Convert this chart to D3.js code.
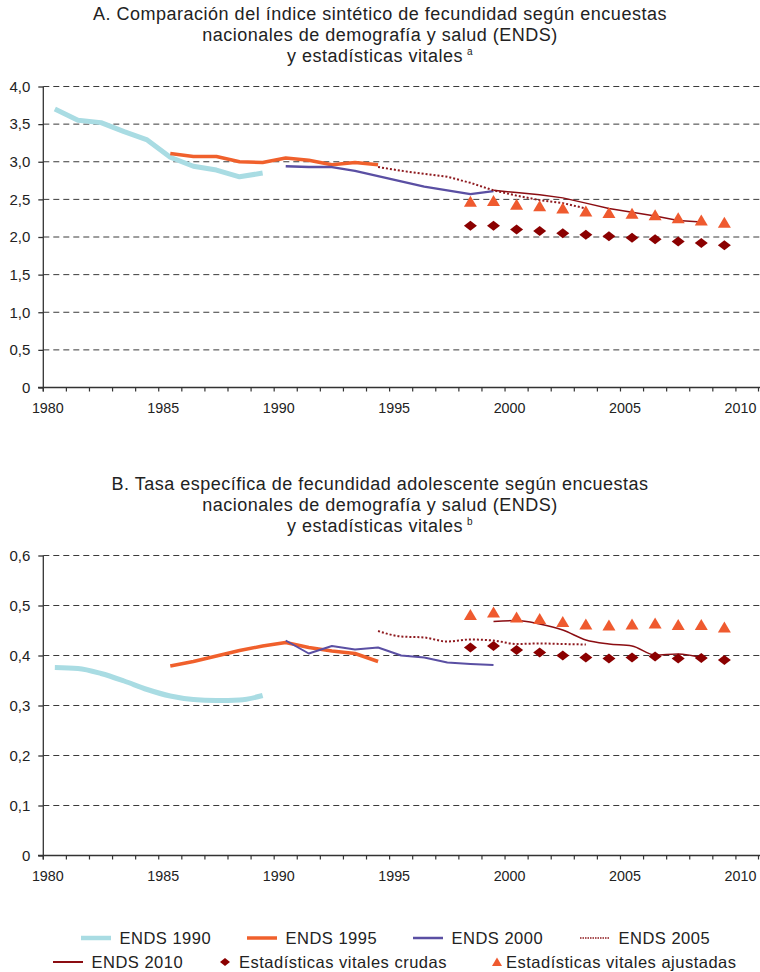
<!DOCTYPE html>
<html>
<head>
<meta charset="utf-8">
<script src="https://cdn.jsdelivr.net/npm/d3@7"></script>
<style>
  body { margin: 0; background: #fff; }
  text { font-family: "Liberation Sans", Arial, sans-serif; fill: #222; }
</style>
</head>
<body>
<div id="chart-area"></div>
<script>
// categories
var years = d3.range(1980, 2011);
var tickYears = [1980, 1985, 1990, 1995, 2000, 2005, 2010];

// Panel A - indice sintetico de fecundidad
var aTicks = [0, 0.5, 1, 1.5, 2, 2.5, 3, 3.5, 4];
var aEnds1990 = [3.70, 3.55, 3.52, 3.40, 3.29, 3.06, 2.94, 2.89, 2.80, 2.85];              // 1980-1989
var aEnds1995 = [3.11, 3.07, 3.07, 3.00, 2.99, 3.05, 3.02, 2.96, 2.99, 2.96];              // 1985-1994
var aEnds2000 = [2.94, 2.93, 2.93, 2.88, 2.81, 2.74, 2.67, 2.62, 2.57, 2.61];              // 1990-1999
var aEnds2005 = [2.93, 2.88, 2.84, 2.80, 2.72, 2.62, 2.55, 2.49, 2.45, 2.38];              // 1994-2003
var aEnds2010 = [2.62, 2.59, 2.56, 2.52, 2.45, 2.38, 2.33, 2.28, 2.22, 2.20];              // 1999-2008
var aCrudas   = [2.15, 2.15, 2.10, 2.08, 2.05, 2.03, 2.01, 1.99, 1.97, 1.94, 1.92, 1.89];  // 1998-2009
var aAjustadas = [2.47, 2.48, 2.43, 2.41, 2.38, 2.34, 2.32, 2.31, 2.29, 2.25, 2.22, 2.19]; // 1998-2009

// Panel B - tasa especifica de fecundidad adolescente
var bTicks = [0, 0.1, 0.2, 0.3, 0.4, 0.5, 0.6];
var bEnds1990 = [0.376, 0.374, 0.364, 0.349, 0.332, 0.319, 0.312, 0.310, 0.311, 0.320];
var bEnds1995 = [0.379, 0.388, 0.399, 0.410, 0.419, 0.426, 0.416, 0.409, 0.404, 0.388];
var bEnds2000 = [0.430, 0.404, 0.419, 0.412, 0.416, 0.400, 0.396, 0.386, 0.383, 0.381];
var bEnds2005 = [0.449, 0.438, 0.436, 0.428, 0.432, 0.430, 0.423, 0.424, 0.423, 0.422];
var bEnds2010 = [0.468, 0.470, 0.463, 0.451, 0.431, 0.423, 0.419, 0.401, 0.403, 0.396];
var bCrudas   = [0.416, 0.419, 0.411, 0.406, 0.400, 0.396, 0.394, 0.396, 0.398, 0.394, 0.395, 0.391];
var bAjustadas = [0.481, 0.486, 0.476, 0.473, 0.467, 0.462, 0.460, 0.462, 0.464, 0.461, 0.461, 0.456];

var colors = {
    e1990: "#a9dce3", e1995: "#f0602c", e2000: "#5a4fa3",
    e2005: "#8e1a1f", e2010: "#8b0d12", crudas: "#8b0000", ajustadas: "#ef5a2f"
};

var svg = d3.select("#chart-area").append("svg")
    .attr("width", 760)
    .attr("height", 972);

var x = d3.scaleBand()
    .domain(years)
    .range([43.3, 759]);

function cx(yr) { return x(yr) + x.bandwidth() / 2; }

function drawPanel(p) {
    var y = d3.scaleLinear()
        .domain([0, p.max])
        .range([p.bottom, p.top]);

    // title
    var t = svg.append("text")
        .attr("text-anchor", "middle")
        .attr("font-size", "18px")
        .attr("letter-spacing", "0.5px");
    p.title.forEach(function(line, i) {
        t.append("tspan")
            .attr("x", 380)
            .attr("y", p.titleY + i * 21)
            .text(line);
    });
    t.append("tspan")
        .attr("font-size", "10px")
        .attr("dx", 4)
        .attr("dy", -7)
        .text(p.note);

    // gridlines
    svg.append("g").selectAll("line")
        .data(p.ticks.filter(function(d) { return d > 0; }))
        .enter().append("line")
        .attr("x1", 43.3).attr("x2", 760)
        .attr("y1", function(d) { return y(d); })
        .attr("y2", function(d) { return y(d); })
        .attr("stroke", "#3a3a3a")
        .attr("stroke-width", 1)
        .attr("stroke-dasharray", "6,4");

    // y axis
    var yAxisCall = d3.axisLeft(y)
        .tickValues(p.ticks)
        .tickSize(5)
        .tickPadding(8)
        .tickFormat(function(d) { return d === 0 ? "0" : d3.format(".1f")(d).replace(".", ","); });
    var ya = svg.append("g")
        .attr("transform", "translate(43.3,0)")
        .call(yAxisCall);
    ya.select(".domain").attr("d", "M0," + p.top + "V" + (p.bottom + 4));
    ya.selectAll("line, path").attr("stroke", "#333").attr("stroke-width", 1.3);
    ya.selectAll("text").attr("font-size", "15px").attr("fill", "#222")
        .attr("font-family", "Liberation Sans, Arial, sans-serif");

    // x axis
    var xa = svg.append("g");
    xa.append("line")
        .attr("x1", 38).attr("x2", 760)
        .attr("y1", p.bottom).attr("y2", p.bottom)
        .attr("stroke", "#333").attr("stroke-width", 1.5);
    xa.selectAll(".tk")
        .data(years.concat([2011]))
        .enter().append("line")
        .attr("x1", function(d) { return d === 2011 ? x(2010) + x.bandwidth() - 0.5 : x(d); })
        .attr("x2", function(d) { return d === 2011 ? x(2010) + x.bandwidth() - 0.5 : x(d); })
        .attr("y1", p.bottom).attr("y2", p.bottom + 4)
        .attr("stroke", "#333").attr("stroke-width", 1.2);
    xa.selectAll(".lb")
        .data(tickYears)
        .enter().append("text")
        .attr("x", function(d) { return cx(d) - 7; })
        .attr("y", p.bottom + 25)
        .attr("text-anchor", "middle")
        .attr("font-size", "14.3px")
        .text(function(d) { return d; });

    // lines
    p.series.forEach(function(s) {
        var pts = s.values.map(function(v, i) { return [cx(s.start + i), y(v)]; });
        var line = d3.line().curve(s.smooth ? d3.curveMonotoneX : d3.curveLinear);
        svg.append("path")
            .attr("d", line(pts))
            .attr("fill", "none")
            .attr("stroke", s.color)
            .attr("stroke-width", s.width)
            .attr("stroke-linejoin", "round")
            .attr("stroke-dasharray", s.dash || null);
    });

    // markers
    svg.append("g").selectAll("path")
        .data(p.crudas)
        .enter().append("path")
        .attr("transform", function(d, i) { return "translate(" + cx(1998 + i) + "," + y(d) + ")"; })
        .attr("d", "M-6.5,0L0,-5L6.5,0L0,5Z")
        .attr("fill", colors.crudas);
    svg.append("g").selectAll("path")
        .data(p.ajustadas)
        .enter().append("path")
        .attr("transform", function(d, i) { return "translate(" + cx(1998 + i) + "," + y(d) + ")"; })
        .attr("d", "M-6.5,5L0,-6L6.5,5Z")
        .attr("fill", colors.ajustadas);
}

drawPanel({
    max: 4, top: 86.5, bottom: 387.5, ticks: aTicks, titleY: 20, note: "a",
    title: ["A. Comparación del índice sintético de fecundidad según encuestas",
            "nacionales de demografía y salud (ENDS)",
            "y estadísticas vitales"],
    series: [
        { values: aEnds1990, start: 1980, color: colors.e1990, width: 5 },
        { values: aEnds1995, start: 1985, color: colors.e1995, width: 3.5 },
        { values: aEnds2000, start: 1990, color: colors.e2000, width: 2.3 },
        { values: aEnds2005, start: 1994, color: colors.e2005, width: 2, dash: "2,2" },
        { values: aEnds2010, start: 1999, color: colors.e2010, width: 1.5 }
    ],
    crudas: aCrudas, ajustadas: aAjustadas
});

drawPanel({
    max: 0.6, top: 555.5, bottom: 855.5, ticks: bTicks, titleY: 490, note: "b",
    title: ["B. Tasa específica de fecundidad adolescente según encuestas",
            "nacionales de demografía y salud (ENDS)",
            "y estadísticas vitales"],
    series: [
        { values: bEnds1990, start: 1980, color: colors.e1990, width: 5, smooth: true },
        { values: bEnds1995, start: 1985, color: colors.e1995, width: 3.5 },
        { values: bEnds2000, start: 1990, color: colors.e2000, width: 2 },
        { values: bEnds2005, start: 1994, color: colors.e2005, width: 2, dash: "2,2", smooth: true },
        { values: bEnds2010, start: 1999, color: colors.e2010, width: 1.5, smooth: true }
    ],
    crudas: bCrudas, ajustadas: bAjustadas
});

// legend
var legendItems = [
    { label: "ENDS 1990", type: "line", color: colors.e1990, width: 4.5, x: 81, y: 944 },
    { label: "ENDS 1995", type: "line", color: colors.e1995, width: 3.5, x: 247, y: 944 },
    { label: "ENDS 2000", type: "line", color: colors.e2000, width: 2.5, x: 413, y: 944 },
    { label: "ENDS 2005", type: "line", color: colors.e2005, width: 1.5, dash: "1.5,1", x: 580, y: 944 },
    { label: "ENDS 2010", type: "line", color: colors.e2010, width: 2, x: 53, y: 968 },
    { label: "Estadísticas vitales crudas", type: "diamond", color: colors.crudas, x: 225, y: 968 },
    { label: "Estadísticas vitales ajustadas", type: "triangle", color: colors.ajustadas, x: 497, y: 968 }
];

var lg = svg.append("g").selectAll("g")
    .data(legendItems)
    .enter().append("g")
    .attr("transform", function(d) { return "translate(" + d.x + "," + d.y + ")"; });

lg.filter(function(d) { return d.type === "line"; })
    .append("line")
    .attr("x1", 0).attr("x2", 30)
    .attr("y1", -6).attr("y2", -6)
    .attr("stroke", function(d) { return d.color; })
    .attr("stroke-width", function(d) { return d.width; })
    .attr("stroke-dasharray", function(d) { return d.dash || null; });
lg.filter(function(d) { return d.type === "diamond"; })
    .append("path")
    .attr("transform", "translate(0,-6)")
    .attr("d", "M-5,0L0,-4L5,0L0,4Z")
    .attr("fill", function(d) { return d.color; });
lg.filter(function(d) { return d.type === "triangle"; })
    .append("path")
    .attr("transform", "translate(0,-6)")
    .attr("d", "M-5,4L0,-4.5L5,4Z")
    .attr("fill", function(d) { return d.color; });
lg.append("text")
    .attr("x", function(d) { return d.type === "line" ? 38.5 : (d.type === "diamond" ? 14 : 9); })
    .attr("y", 0)
    .attr("font-size", "16.5px")
    .attr("letter-spacing", "0.5px")
    .text(function(d) { return d.label; });
</script>
</body>
</html>
